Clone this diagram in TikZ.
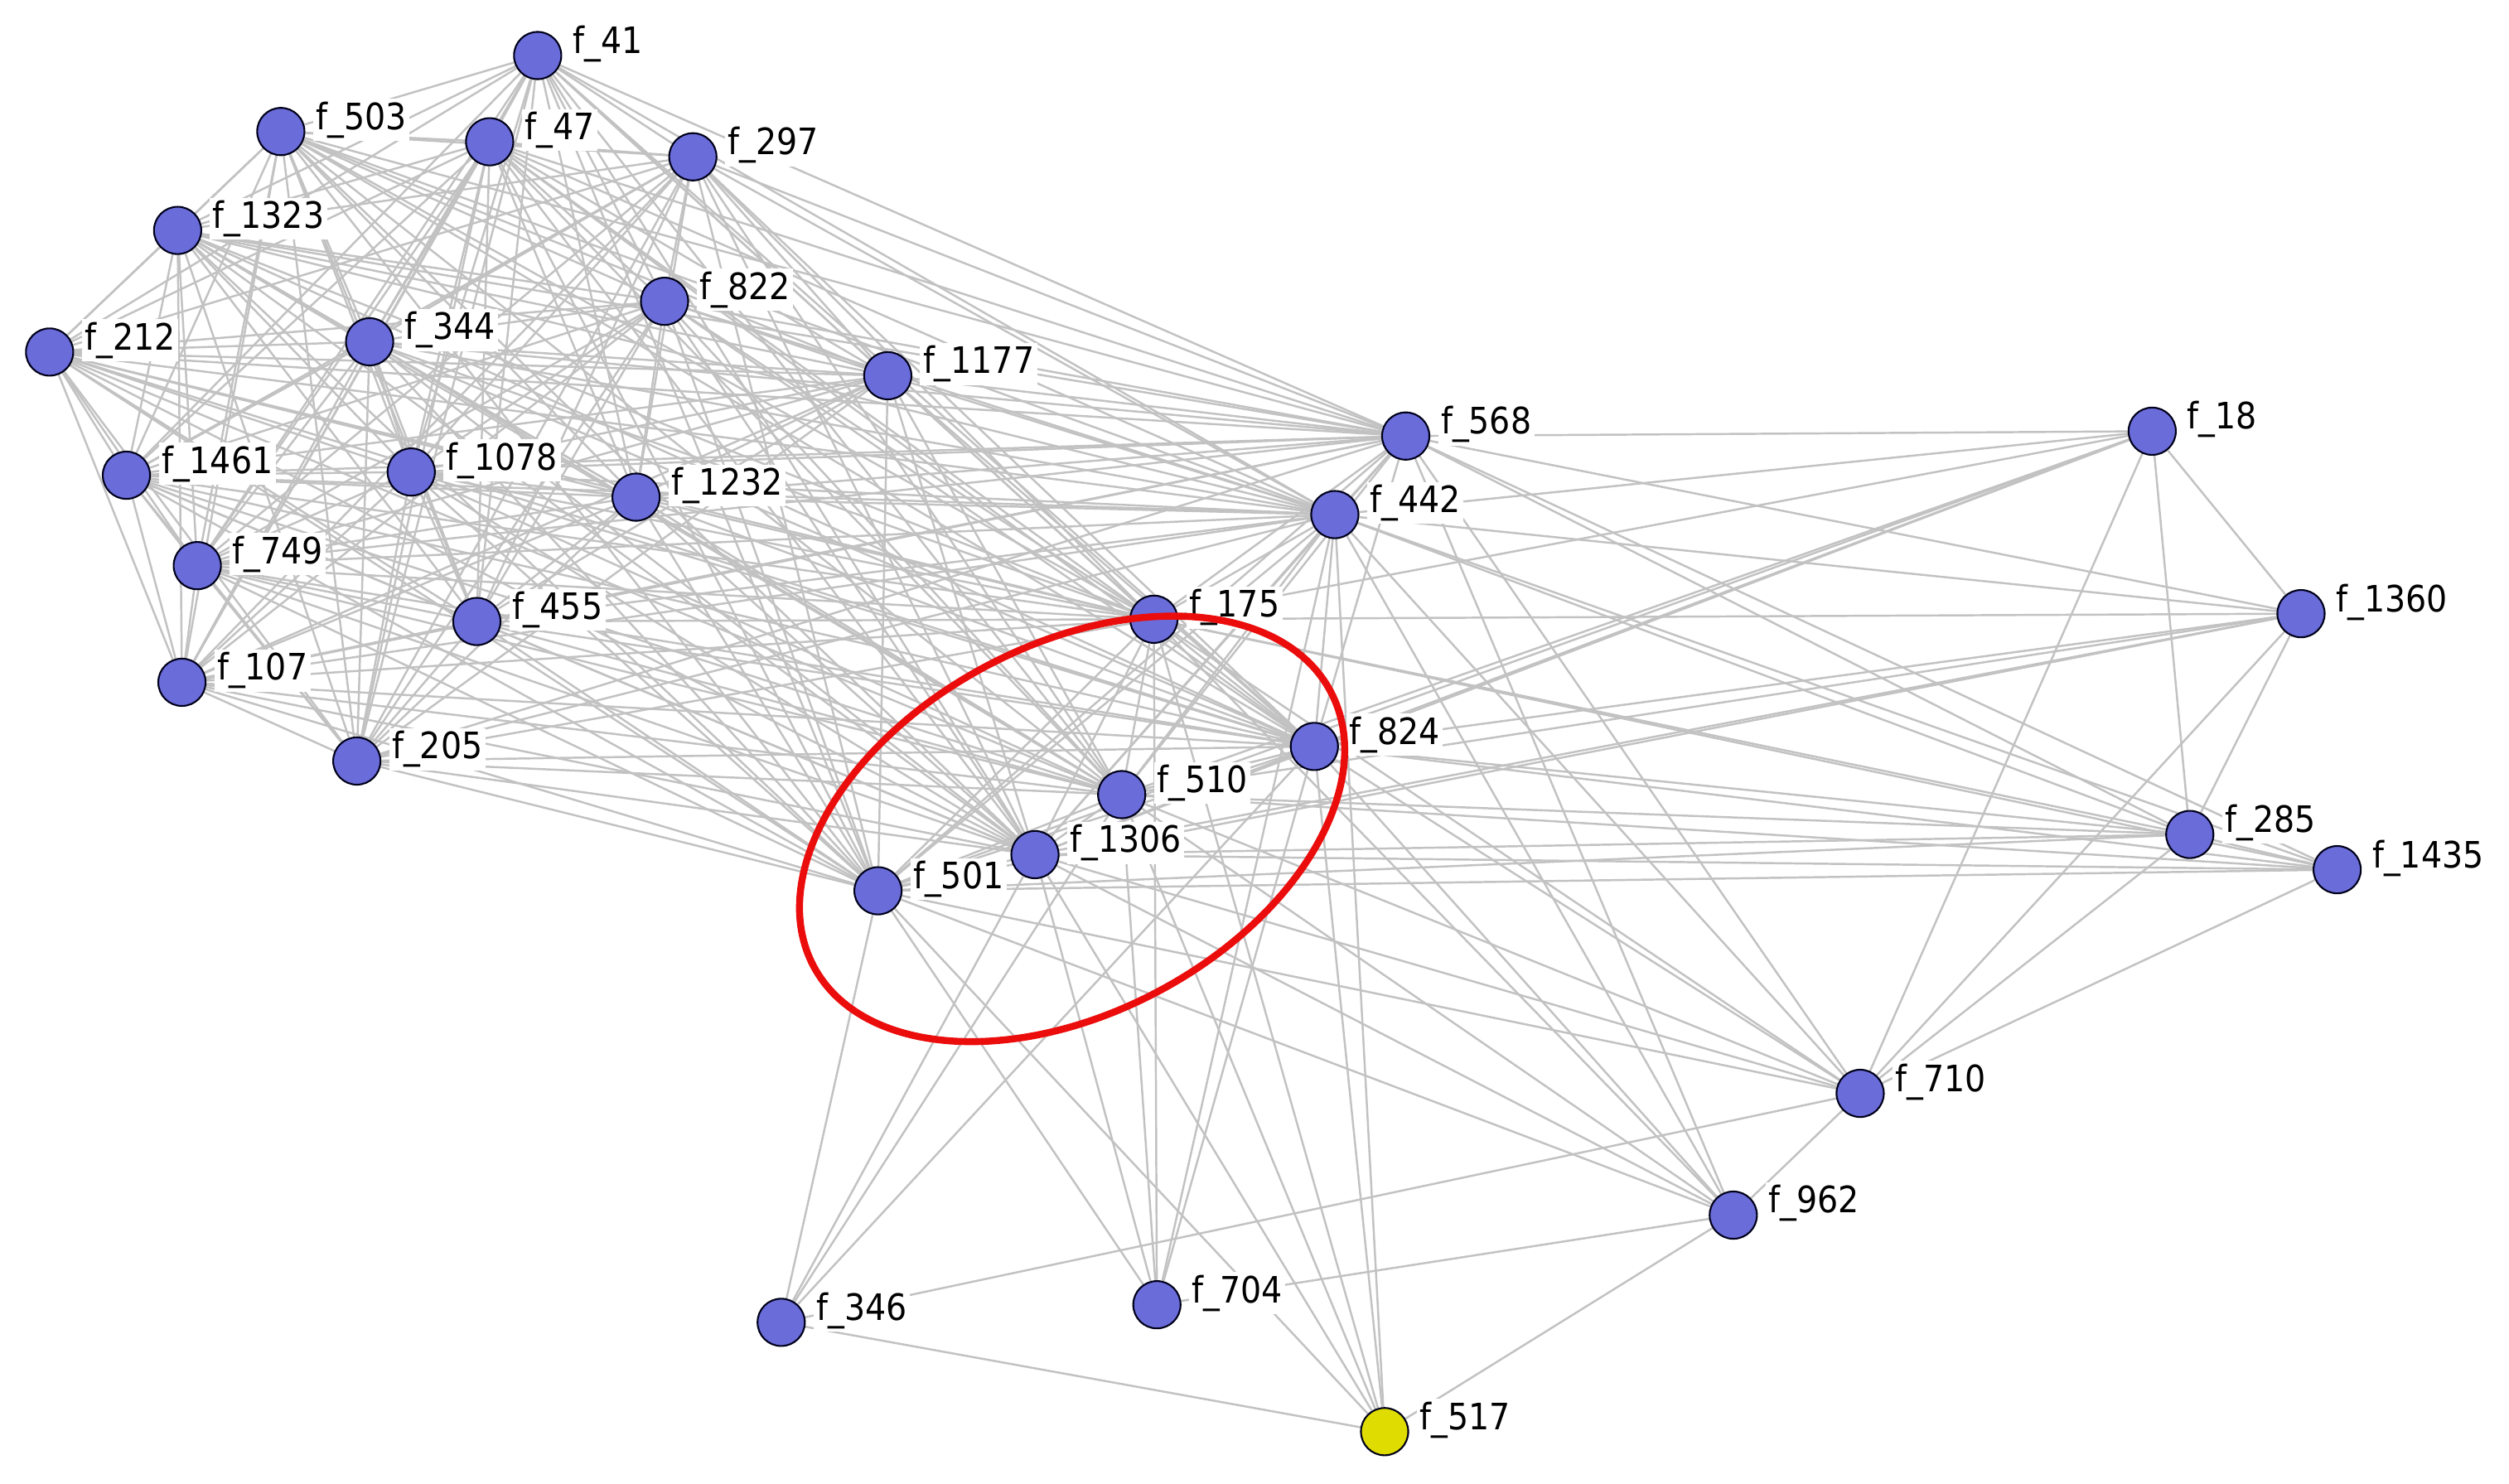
\documentclass[tikz,border=0pt]{standalone}
\usepackage{fontspec}
\setmainfont{DejaVu Sans}
\newfontfamily\labfont[FakeStretch=0.9]{DejaVu Sans}
\usetikzlibrary{backgrounds}
\definecolor{nodeblue}{RGB}{106,108,218}
\definecolor{nodeyellow}{RGB}{222,220,0}
\definecolor{edgegrey}{RGB}{194,194,194}
\definecolor{ringred}{RGB}{235,12,12}
\tikzset{
  vert/.style={circle, draw=black!90!blue, line width=0.6pt, fill=nodeblue,
    minimum size=16.25pt, inner sep=0pt, label distance=7pt},
  hit/.style={vert, fill=nodeyellow},
  lab/.style={font=\labfont\fontsize{12.5}{14}\selectfont, fill=white, inner sep=1pt, xshift=2.5pt, yshift=4pt},
  link/.style={draw=edgegrey, line width=0.7pt},
}
\begin{document}
\begin{tikzpicture}[x=0.01931cm, y=-0.01931cm]
\useasboundingbox (0,0) rectangle (1568,927);
% left cluster
\node[vert, label={[lab]0:f\_41}]   (n41)   at (336,34.7) {};
\node[vert, label={[lab]0:f\_503}]  (n503)  at (175.5,82.2) {};
\node[vert, label={[lab]0:f\_47}]   (n47)   at (306,88.6) {};
\node[vert, label={[lab]0:f\_297}]  (n297)  at (433,98) {};
\node[vert, label={[lab]0:f\_1323}] (n1323) at (111,144) {};
\node[vert, label={[lab]0:f\_822}]  (n822)  at (415.3,188.3) {};
\node[vert, label={[lab]0:f\_212}]  (n212)  at (31,220) {};
\node[vert, label={[lab]0:f\_344}]  (n344)  at (231,213.6) {};
\node[vert, label={[lab]0:f\_1177}] (n1177) at (554.8,234.8) {};
\node[vert, label={[lab]0:f\_1461}] (n1461) at (79,297) {};
\node[vert, label={[lab]0:f\_1078}] (n1078) at (257,295) {};
\node[vert, label={[lab]0:f\_1232}] (n1232) at (397.5,310.7) {};
\node[vert, label={[lab]0:f\_749}]  (n749)  at (123.3,353.5) {};
\node[vert, label={[lab]0:f\_455}]  (n455)  at (298,388.4) {};
\node[vert, label={[lab]0:f\_107}]  (n107)  at (113.7,426.4) {};
\node[vert, label={[lab]0:f\_205}]  (n205)  at (223,475.6) {};
% middle
\node[vert, label={[lab]0:f\_568}]  (n568)  at (878.5,272.5) {};
\node[vert, label={[lab]0:f\_442}]  (n442)  at (834.2,321.6) {};
\node[vert, label={[lab]0:f\_175}]  (n175)  at (721.1,387) {};
\node[vert, label={[lab]0:f\_824}]  (n824)  at (821.4,466.5) {};
\node[vert, label={[lab]0:f\_510}]  (n510)  at (701,496.6) {};
\node[vert, label={[lab]0:f\_1306}] (n1306) at (646.8,534.1) {};
\node[vert, label={[lab]0:f\_501}]  (n501)  at (548.7,556.7) {};
% right
\node[vert, label={[lab]0:f\_18}]   (n18)   at (1345,269.5) {};
\node[vert, label={[lab]0:f\_1360}] (n1360) at (1438,383.5) {};
\node[vert, label={[lab]0:f\_285}]  (n285)  at (1368.5,521.5) {};
\node[vert, label={[lab]0:f\_1435}] (n1435) at (1460.6,543.5) {};
\node[vert, label={[lab]0:f\_710}]  (n710)  at (1162.5,683.3) {};
\node[vert, label={[lab]0:f\_962}]  (n962)  at (1083.2,759.4) {};
% bottom
\node[vert, label={[lab]0:f\_346}]  (n346)  at (488.2,826.4) {};
\node[vert, label={[lab]0:f\_704}]  (n704)  at (723,815.4) {};
\node[hit,  label={[lab]0:f\_517}]  (n517)  at (865.3,894.7) {};

\def\Lset{n41,n503,n47,n297,n1323,n822,n212,n344,n1177,n1461,n1078,n1232,n749,n455,n107,n205}
\def\Mset{n568,n442,n175,n824,n510,n1306,n501}
\def\Rset{n18,n1360,n285,n1435,n710,n962}
\begin{scope}[on background layer]
  \fill[white] (0,0) rectangle (1568,927);
  % complete left cluster
  \foreach \a [count=\i] in \Lset {
    \foreach \b [count=\j] in \Lset {
      \ifnum\j>\i \draw[link] (\a) -- (\b); \fi
    }
  }
  % left cluster to middle
  \foreach \a in \Lset { \foreach \b in \Mset { \draw[link] (\a) -- (\b); } }
  % complete middle
  \foreach \a [count=\i] in \Mset {
    \foreach \b [count=\j] in \Mset {
      \ifnum\j>\i \draw[link] (\a) -- (\b); \fi
    }
  }
  % middle to right
  \foreach \a in \Mset { \foreach \b in \Rset { \draw[link] (\a) -- (\b); } }
  % right side
  \foreach \a/\b in {n18/n1360, n18/n285, n18/n710, n1360/n285, n1360/n710,
                     n285/n1435, n285/n710, n1435/n710, n710/n962}
    { \draw[link] (\a) -- (\b); }
  % bottom
  \foreach \a/\b in {n346/n501, n346/n1306, n346/n510, n346/n824, n346/n710, n346/n517,
                     n704/n501, n704/n1306, n704/n510, n704/n175, n704/n824, n704/n442, n704/n962,
                     n517/n501, n517/n1306, n517/n510, n517/n175, n517/n824, n517/n442, n517/n962}
    { \draw[link] (\a) -- (\b); }
\end{scope}
% highlight ring
\draw[ringred, line width=2.4pt, rotate around={28:(670,518)}]
  (670,518) ellipse [x radius=3.534cm, y radius=2.221cm];
\end{tikzpicture}
\end{document}
